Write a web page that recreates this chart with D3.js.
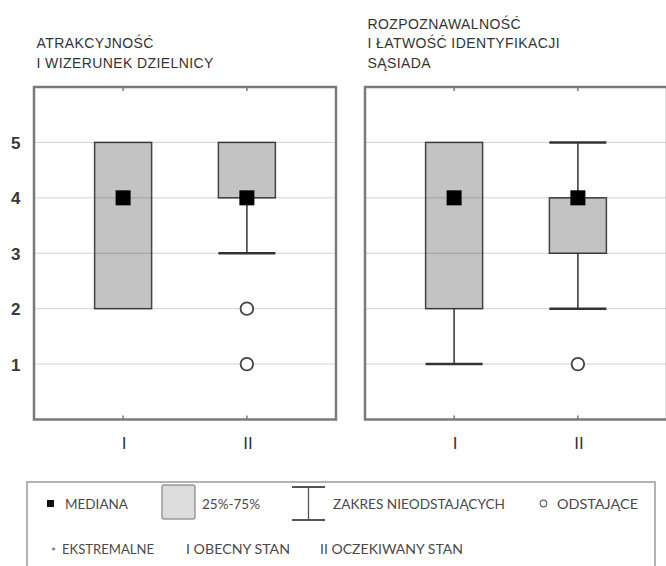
<!DOCTYPE html>
<html>
<head>
<meta charset="utf-8">
<script src="https://cdn.jsdelivr.net/npm/d3@7"></script>
<style>
	body { margin: 0; background: #fff; }
	svg { display: block; }
</style>
</head>
<body>
<div id="plotBox"></div>
<script>
// Global Variables

//Width and height
var w = 666;
var h = 566;

// Values (one entry per panel, then per category)
var titles = [
	["ATRAKCYJNOŚĆ", "I WIZERUNEK DZIELNICY"],
	["ROZPOZNAWALNOŚĆ", "I ŁATWOŚĆ IDENTYFIKACJI", "SĄSIADA"]
];
var categories = ["I", "II"];
var medians = [[4, 4], [4, 4]];
var q1 = [[2, 4], [2, 3]];
var q3 = [[5, 5], [5, 4]];
var whiskLow = [[2, 3], [1, 2]];
var whiskHigh = [[5, 5], [5, 5]];
var outliers = [[[], [2, 1]], [[], [1]]];
var yTicks = [1, 2, 3, 4, 5];

var legendRow1 = ["MEDIANA", "25%-75%", "ZAKRES NIEODSTAJĄCYCH", "ODSTAJĄCE"];
var legendRow2 = ["EKSTREMALNE", "I OBECNY STAN", "II OCZEKIWANY STAN"];

// Layout
var panelLeft = [34, 365];
var panelW = 302;
var plotTop = 87, plotBottom = 419.5;
var boxW = 57;
var titleFont = "'Liberation Sans', Arial, sans-serif";

var y = d3.scaleLinear().domain([0, 6]).range([plotBottom, plotTop]);

//Create SVG element
var svg = d3.select("#plotBox")
			.append("svg")
			.attr("width", w)
			.attr("height", h);

titles.forEach(function(lines, p) {
	var x = d3.scalePoint()
			.domain(categories)
			.range([panelLeft[p], panelLeft[p] + panelW])
			.padding(0.72);

	var g = svg.append("g");

	// title, bottom aligned
	g.selectAll("text.title")
		.data(lines)
		.enter()
		.append("text")
		.attr("class", "title")
		.attr("x", panelLeft[p] + 2.5)
		.attr("y", function(d, i) { return 68 - (lines.length - 1 - i) * 19.6; })
		.style("font-family", titleFont)
		.style("font-size", "14px")
		.style("letter-spacing", "0.4px")
		.style("fill", "#333")
		.text(function(d) { return d; });

	// boxes
	g.selectAll("rect.box")
		.data(categories)
		.enter()
		.append("rect")
		.attr("class", "box")
		.attr("x", function(d) { return x(d) - boxW / 2; })
		.attr("width", boxW)
		.attr("y", function(d, i) { return y(q3[p][i]); })
		.attr("height", function(d, i) { return y(q1[p][i]) - y(q3[p][i]); })
		.style("fill", "#c3c3c3")
		.style("stroke", "#444")
		.style("stroke-width", 1.5);

	// gridlines (they show through the boxes)
	g.selectAll("line.grid")
		.data(yTicks)
		.enter()
		.append("line")
		.attr("class", "grid")
		.attr("x1", panelLeft[p])
		.attr("x2", panelLeft[p] + panelW)
		.attr("y1", function(d) { return y(d); })
		.attr("y2", function(d) { return y(d); })
		.style("stroke", "#000")
		.style("stroke-opacity", 0.18)
		.style("stroke-width", 1);

	// whiskers: line + cap only where they go past the box
	categories.forEach(function(c, i) {
		[[whiskLow[p][i], q1[p][i]], [whiskHigh[p][i], q3[p][i]]].forEach(function(wk) {
			if (wk[0] === wk[1]) return;
			g.append("line")
				.attr("x1", x(c)).attr("x2", x(c))
				.attr("y1", y(wk[1])).attr("y2", y(wk[0]))
				.style("stroke", "#333")
				.style("stroke-width", 1.5);
			g.append("line")
				.attr("x1", x(c) - boxW / 2).attr("x2", x(c) + boxW / 2)
				.attr("y1", y(wk[0])).attr("y2", y(wk[0]))
				.style("stroke", "#333")
				.style("stroke-width", 2.5);
		});

		// outliers
		g.selectAll(null)
			.data(outliers[p][i])
			.enter()
			.append("circle")
			.attr("cx", x(c))
			.attr("cy", function(d) { return y(d); })
			.attr("r", 6.3)
			.style("fill", "#fff")
			.style("stroke", "#444")
			.style("stroke-width", 1.8);
	});

	// medians
	g.selectAll("rect.median")
		.data(categories)
		.enter()
		.append("rect")
		.attr("class", "median")
		.attr("x", function(d) { return x(d) - 7.5; })
		.attr("y", function(d, i) { return y(medians[p][i]) - 7.5; })
		.attr("width", 15)
		.attr("height", 15)
		.style("fill", "#000");

	// frame
	g.append("rect")
		.attr("x", panelLeft[p])
		.attr("y", plotTop)
		.attr("width", panelW)
		.attr("height", plotBottom - plotTop)
		.style("fill", "none")
		.style("stroke", "#7a7a7a")
		.style("stroke-width", 2.5);

	// small inward ticks at the categories, top and bottom
	g.selectAll("line.tick")
		.data(categories.concat(categories))
		.enter()
		.append("line")
		.attr("x1", function(d) { return x(d); })
		.attr("x2", function(d) { return x(d); })
		.attr("y1", function(d, i) { return i < categories.length ? plotTop : plotBottom; })
		.attr("y2", function(d, i) { return i < categories.length ? plotTop + 4 : plotBottom - 4; })
		.style("stroke", "#777")
		.style("stroke-width", 1.5);

	// category labels
	g.selectAll("text.cat")
		.data(categories)
		.enter()
		.append("text")
		.attr("x", function(d) { return x(d) + 1; })
		.attr("y", 449)
		.attr("text-anchor", "middle")
		.style("font-family", titleFont)
		.style("font-size", "17px")
		.style("fill", "#333")
		.text(function(d) { return d; });
});

// y labels, left panel only
svg.selectAll("text.ylab")
	.data(yTicks)
	.enter()
	.append("text")
	.attr("x", 20.5)
	.attr("y", function(d) { return y(d) + 6.5; })
	.attr("text-anchor", "end")
	.style("font-family", titleFont)
	.style("font-size", "17px")
	.style("font-weight", "bold")
	.style("fill", "#3a3a3a")
	.text(function(d) { return d; });

// Legend
var lg = svg.append("g");
lg.append("rect")
	.attr("x", 27).attr("y", 482)
	.attr("width", 628).attr("height", 100)
	.style("fill", "none")
	.style("stroke", "#9a9a9a")
	.style("stroke-width", 1.5);

lg.append("rect")
	.attr("x", 47).attr("y", 500)
	.attr("width", 7).attr("height", 7)
	.style("fill", "#111");
lg.append("rect")
	.attr("x", 162).attr("y", 485)
	.attr("width", 33).attr("height", 34)
	.attr("rx", 2)
	.style("fill", "#dcdcdc")
	.style("stroke", "#999")
	.style("stroke-width", 1.5);
lg.append("path")
	.attr("d", "M292,487H325M292,520H325")
	.style("stroke", "#555")
	.style("stroke-width", 2);
lg.append("line")
	.attr("x1", 308.5).attr("x2", 308.5)
	.attr("y1", 487).attr("y2", 520)
	.style("stroke", "#555")
	.style("stroke-width", 1.3);
lg.append("circle")
	.attr("cx", 543.5).attr("cy", 503.5).attr("r", 3.3)
	.style("fill", "none")
	.style("stroke", "#666")
	.style("stroke-width", 1.2);
lg.append("text")
	.attr("x", 53.5).attr("y", 556)
	.attr("text-anchor", "middle")
	.style("font-family", "Lato, sans-serif")
	.style("font-size", "12px")
	.style("fill", "#555")
	.text("*");

var row1X = [65, 202, 333, 557];
var row1W = [63, 58, 172, 81];
var row2X = [62, 186, 320];
var row2W = [92, 104, 143];

function legendText(labels, xs, ws, baseline) {
	lg.selectAll(null)
		.data(labels)
		.enter()
		.append("text")
		.attr("x", function(d, i) { return xs[i]; })
		.attr("y", baseline)
		.attr("textLength", function(d, i) { return ws[i]; })
		.attr("lengthAdjust", "spacingAndGlyphs")
		.style("font-family", "Lato, sans-serif")
		.style("font-size", "13.5px")
		.style("fill", "#4a4a4a")
		.text(function(d) { return d; });
}
legendText(legendRow1, row1X, row1W, 508.5);
legendText(legendRow2, row2X, row2W, 554);
</script>
</body>
</html>
